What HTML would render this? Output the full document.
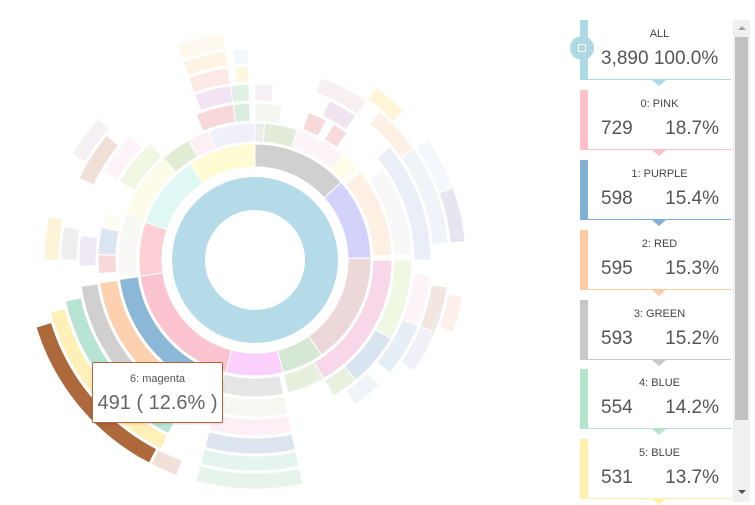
<!DOCTYPE html>
<html><head><meta charset="utf-8">
<style>
body{margin:0;width:755px;height:502px;background:#fff;overflow:hidden;font-family:"Liberation Sans",sans-serif;position:relative}
#chart{position:absolute;left:0;top:0}
.item{position:absolute;left:580px;width:151px;height:60px}
.bar{position:absolute;left:0;top:0;width:8px;height:60px}
.line{position:absolute;left:8px;right:0;bottom:0;height:1px}
.tri{position:absolute;left:72px;bottom:-6px;width:0;height:0;border-left:7px solid transparent;border-right:7px solid transparent;border-top:6px solid}
.ttl{position:absolute;left:8px;right:0;top:8px;text-align:center;font-size:11px;color:#444}
.num{position:absolute;left:21px;top:28px;font-size:19px;color:#555}
.pct{position:absolute;right:12px;top:28px;font-size:19px;color:#555}
#tip{position:absolute;left:92px;top:362px;width:129px;height:59px;background:#fff;border:1px solid #b0693c;border-radius:2px;text-align:center;box-shadow:0 1px 2px rgba(0,0,0,.15)}
</style></head><body>
<svg id="chart" width="560" height="502"></svg>

<div class="item" style="top:20px"><div class="bar" style="background:#add8e6"></div><div class="line" style="background:#add8e6"></div><div class="tri" style="border-top-color:#add8e6"></div><div class="ttl">ALL</div><div class="num" style="left:21px">3,890 100.0%</div></div>
<div style="position:absolute;left:570px;top:36px;width:24px;height:24px;border-radius:50%;background:#add8e6"><div style="position:absolute;left:8px;top:8px;width:6px;height:6px;border:1px solid #fff"></div></div>
<div class="item" style="top:90px"><div class="bar" style="background:#ffc0cb"></div><div class="line" style="background:#ffc0cb"></div><div class="tri" style="border-top-color:#ffc0cb"></div><div class="ttl">0: PINK</div><div class="num">729</div><div class="pct">18.7%</div></div>
<div class="item" style="top:160px"><div class="bar" style="background:#80b0d4"></div><div class="line" style="background:#80b0d4"></div><div class="tri" style="border-top-color:#80b0d4"></div><div class="ttl">1: PURPLE</div><div class="num">598</div><div class="pct">15.4%</div></div>
<div class="item" style="top:230px"><div class="bar" style="background:#fdcba4"></div><div class="line" style="background:#fdcba4"></div><div class="tri" style="border-top-color:#fdcba4"></div><div class="ttl">2: RED</div><div class="num">595</div><div class="pct">15.3%</div></div>
<div class="item" style="top:300px"><div class="bar" style="background:#c8c8c8"></div><div class="line" style="background:#c8c8c8"></div><div class="tri" style="border-top-color:#c8c8c8"></div><div class="ttl">3: GREEN</div><div class="num">593</div><div class="pct">15.2%</div></div>
<div class="item" style="top:369px"><div class="bar" style="background:#b4e4cc"></div><div class="line" style="background:#b4e4cc"></div><div class="tri" style="border-top-color:#b4e4cc"></div><div class="ttl">4: BLUE</div><div class="num">554</div><div class="pct">14.2%</div></div>
<div class="item" style="top:439px"><div class="bar" style="background:#fff0b0"></div><div class="line" style="background:#fff0b0"></div><div class="tri" style="border-top-color:#fff0b0"></div><div class="ttl">5: BLUE</div><div class="num">531</div><div class="pct">13.7%</div></div>

<div style="position:absolute;left:733px;top:20px;width:17px;height:482px;background:#f0f0f0">
<div style="position:absolute;left:5px;top:6px;border-left:4px solid transparent;border-right:4px solid transparent;border-bottom:4px solid #a0a0a0"></div>
<div style="position:absolute;left:2px;top:17px;width:13px;height:383px;background:#c1c1c1"></div>
<div style="position:absolute;left:5px;top:470px;border-left:4px solid transparent;border-right:4px solid transparent;border-top:4px solid #505050"></div>
</div>

<div id="tip">
<div style="font-size:11px;color:#555;margin-top:10px">6: magenta</div>
<div style="font-size:20px;color:#666;margin-top:7px">491 ( 12.6% )</div>
</div>

<script>
// highlighted path data
const pathLabels = ['0: PINK','1: PURPLE','2: RED','3: GREEN','4: BLUE','5: BLUE','6: magenta'];
const pathValues = [729, 598, 595, 593, 554, 531, 491];
const totalValue = 3890;
const pathColors = ['#fcc4d0','#8cb8d8','#fdd0b0','#d0d0d0','#b8e4d4','#fff0b8','#ad683c'];
// other segments: [ring, startDeg, endDeg, color]
const otherSegs = [
 [1,0,48,'#d0d0d0'],[1,48,89,'#d2d2fa'],[1,89,145,'#ecd8d8'],[1,145,166,'#d4e8d4'],[1,166,194.5,'#fcd0fc'],[1,262,289,'#fcd0d4'],[1,289,326,'#e0f8f4'],[1,326,360,'#fffcd4'],
 [2,0,4,'#ececec'],[2,4,18,'#e2ecd8'],[2,18,40,'#fcf4f8'],[2,40,48,'#fdfde8'],[2,50,88,'#fff0e4'],[2,90,150,'#f8d8e8'],[2,150,166,'#e6f0dc'],[2,168,195,'#e6e6e6'],[2,195,206,'#f4f8f0'],[2,263,290,'#f8f8f4'],[2,290,318,'#fcfce8'],[2,318,331,'#e0ecd4'],[2,331,340,'#fcf0f4'],[2,340,360,'#f0f0f8'],
 [3,0,10,'#f6f6f0'],[3,20,27,'#f8d8d8'],[3,30,36,'#f8dcdc'],[3,55,88,'#f8f8f8'],[3,90,120,'#f0f8e4'],[3,120,140,'#d8e4f0'],[3,140,150,'#e8f0e0'],[3,168,195,'#f4f8f0'],[3,265,272,'#f8d8d8'],[3,272,282,'#dae6f2'],[3,282,288,'#fdfdf4'],[3,300,318,'#f0f8e4'],[3,338,352,'#f6d8d8'],[3,352,358,'#d8ece0'],
 [4,0,6,'#f6f0f6'],[4,25,35,'#f0e4f0'],[4,50,90,'#eaeef6'],[4,95,112,'#fcf4f8'],[4,112,130,'#e6eef6'],[4,135,145,'#f0f4f8'],[4,168,195,'#fcf0f6'],[4,268,278,'#f0e8f4'],[4,300,315,'#fcf4f8'],[4,340,352,'#f2e4f2'],[4,352,358,'#e0f0e4'],
 [5,20,35,'#f8f0f0'],[5,40,55,'#fdf0e4'],[5,55,85,'#f0f4f8'],[5,98,112,'#f2e6e0'],[5,112,125,'#f0f0f6'],[5,168,195,'#dce4f0'],[5,270,280,'#eeeeee'],[5,295,310,'#f0e0d8'],[5,340,352,'#fce8e4'],[5,354,358,'#fcf8e0'],
 [6,35,45,'#fdf6d8'],[6,55,70,'#f4f8fc'],[6,70,85,'#e8e4f0'],[6,100,110,'#fdf0e8'],[6,168,195,'#e4f4ee'],[6,270,282,'#fdf4d8'],[6,300,312,'#f4f0f4'],[6,340,352,'#fdf4e4'],[6,354,358,'#f0f8fc'],
 [7,168,195,'#e6f4ec'],[7,200,207,'#f0e0d8'],[7,340,352,'#fef8ee']
];
const ringR = [[50,83],[93,116],[118,137],[139,157],[159,176],[178,194],[196,211],[213,229]];
const cx = 255, cy = 260;
const svg = document.getElementById('chart');
const NS = 'http://www.w3.org/2000/svg';
function angOf(v){ return v / totalValue * 360; }
function pt(r,a){ const t=a*Math.PI/180; return [cx+r*Math.sin(t), cy-r*Math.cos(t)]; }
function arc(r0,r1,a0,a1){
  const L = (a1-a0)>180?1:0;
  const p1=pt(r1,a0),p2=pt(r1,a1),p3=pt(r0,a1),p4=pt(r0,a0);
  return `M${p1[0]},${p1[1]}A${r1},${r1} 0 ${L} 1 ${p2[0]},${p2[1]}L${p3[0]},${p3[1]}A${r0},${r0} 0 ${L} 0 ${p4[0]},${p4[1]}Z`;
}
function add(d,fill,name,stroke){
  const p=document.createElementNS(NS,'path');
  p.setAttribute('d',d);p.setAttribute('fill',fill);
  if(stroke){p.setAttribute('stroke','#fff');p.setAttribute('stroke-width','1');}
  
  
  svg.appendChild(p);
}
// root as full ring (no seam)
const root=document.createElementNS(NS,'circle');
root.setAttribute('cx',cx);root.setAttribute('cy',cy);root.setAttribute('r',(ringR[0][0]+ringR[0][1])/2);
root.setAttribute('fill','none');root.setAttribute('stroke','#b6dbe8');root.setAttribute('stroke-width',ringR[0][1]-ringR[0][0]);


svg.appendChild(root);
otherSegs.forEach(s=>{ add(arc(ringR[s[0]][0],ringR[s[0]][1],s[1],s[2]),s[3],'segment',true); });
// highlighted path
const pathStart = [194.5,206.5,206.5,206.5,206.5,206.5,207.5];
pathValues.forEach((v,i)=>{
  const a0=pathStart[i], a1=a0+angOf(v);
  add(arc(ringR[i+1][0],ringR[i+1][1],a0,a1),pathColors[i],'segment-'+pathLabels[i].replace(/[^a-z0-9]+/gi,'-').toLowerCase(),true);
});
</script>
</body></html>
